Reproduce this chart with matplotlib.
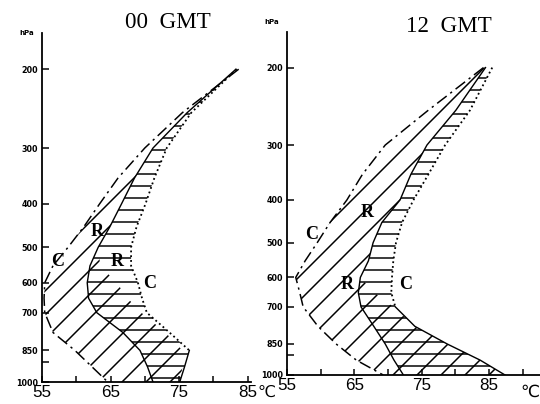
import matplotlib
matplotlib.use("Agg")
import matplotlib.pyplot as plt
from matplotlib.ticker import NullLocator

levels = [200, 250, 300, 350, 400, 450, 500, 550, 600, 650, 700, 775, 850, 925, 1000]

# 00 GMT panel (values in degC)
c_left_00 = [83.7, 75.5, 70.0, 66.1, 63.4, 61.1, 58.8, 56.6, 55.4, 55.3, 55.4, 56.6, 59.8, 62.3, 64.6]
r_left_00 = [83.3, 76.2, 71.2, 68.5, 66.6, 64.9, 63.2, 62.0, 61.6, 61.8, 63.0, 66.8, 69.3, 70.4, 71.2]
c_right_00 = [83.4, 76.8, 73.2, 71.4, 70.1, 68.8, 68.0, 68.0, 69.0, 69.6, 70.3, 73.6, 76.5, 75.8, 75.1]
slash_right_00 = [83.3, 76.2, 71.2, 68.5, 66.6, 64.9, 63.2, 63.5, 65.9, 67.5, 69.5, 73.0, 75.5, 75.5, 75.1]

# 12 GMT panel
c_left_12 = [84.2, 76.0, 69.6, 66.2, 63.9, 61.4, 59.5, 57.7, 56.3, 56.9, 57.4, 59.6, 62.3, 65.3, 69.3]
r_left_12 = [84.5, 80.1, 75.8, 73.4, 71.8, 69.1, 67.8, 67.1, 65.9, 65.6, 66.0, 67.9, 69.6, 70.9, 72.3]
c_right_12 = [85.5, 82.2, 78.5, 76.0, 73.8, 72.1, 71.2, 70.8, 70.6, 70.5, 71.1, 74.0, 78.8, 83.7, 87.4]
slash_right_12 = [84.5, 80.1, 75.8, 73.4, 71.8, 69.1, 67.8, 67.1, 65.9, 68.0, 70.8, 74.0, 78.8, 83.7, 87.4]

p_ticks = [200, 300, 400, 500, 600, 700, 850, 900, 1000]
p_labels = ['200', '300', '400', '500', '600', '700', '850', '', '1000']

# region labels: (text, x degC, p hPa)
labels_00 = [('C', 57.3, 539), ('R', 63.0, 462), ('R', 65.9, 539), ('C', 70.7, 601)]
labels_12 = [('R', 66.9, 426), ('C', 58.7, 480), ('R', 63.9, 623), ('C', 72.6, 623)]

plt.rcParams['hatch.linewidth'] = 1.5
plt.rcParams['hatch.color'] = 'black'

fig = plt.figure(figsize=(540 / 72, 404 / 72), dpi=72)
ax1 = fig.add_axes([42 / 540, 1 - 382 / 404, 209 / 540, 349 / 404])
ax2 = fig.add_axes([287 / 540, 1 - 375 / 404, 253 / 540, 343 / 404])


def draw_panel(ax, c_left, r_left, c_right, slash_right, solid_from, labels, xmax, xticks):
    ax.fill_betweenx(levels, c_left, slash_right, facecolor='none', edgecolor='black',
                     hatch='/', linewidth=0)
    ax.fill_betweenx(levels, r_left, c_right, facecolor='none', edgecolor='black',
                     hatch='-', linewidth=0)
    ax.plot(c_left, levels, color='black', lw=1.5, dashes=(8, 3, 1.5, 3))
    ax.plot(r_left, levels, color='black', lw=1.4)
    k = levels.index(solid_from)
    ax.plot(c_right[:k + 1], levels[:k + 1], color='black', lw=1.8, linestyle=':')
    ax.plot(c_right[k:], levels[k:], color='black', lw=1.4)
    for txt, x, p in labels:
        ax.text(x, p, txt, ha='center', va='center', family='Liberation Serif',
                weight='bold', fontsize=18)

    ax.set_yscale('log')
    ax.set_ylim(1000, 166)
    ax.set_xlim(55, xmax)
    ax.yaxis.set_minor_locator(NullLocator())
    ax.set_yticks(p_ticks)
    ax.set_yticklabels(p_labels, fontsize=8, weight='bold')
    ax.set_xticks(xticks)
    ax.set_xticklabels([str(t) if t % 10 == 5 else '' for t in xticks],
                       family='Liberation Sans', fontsize=17)
    ax.tick_params(axis='y', direction='in', length=7, width=1.5, pad=4)
    ax.tick_params(axis='x', direction='in', length=6, width=1.5, pad=3)
    for s in ['top', 'right']:
        ax.spines[s].set_visible(False)
    for s in ['left', 'bottom']:
        ax.spines[s].set_linewidth(1.8)
    ax.patch.set_alpha(0)


draw_panel(ax1, c_left_00, r_left_00, c_right_00, slash_right_00, 850, labels_00,
           85.5, [55, 60, 65, 70, 75, 80, 85])
draw_panel(ax2, c_left_12, r_left_12, c_right_12, slash_right_12, 700, labels_12,
           92.6, [55, 60, 65, 70, 75, 80, 85, 90])

fig.text(168 / 540, 1 - 23 / 404, '00  GMT', ha='center', va='center',
         family='Liberation Serif', fontsize=23)
fig.text(449 / 540, 1 - 26 / 404, '12  GMT', ha='center', va='center',
         family='Liberation Serif', fontsize=23)
fig.text(27 / 540, 1 - 33 / 404, 'hPa', ha='center', va='center', fontsize=7, weight='bold')
fig.text(272 / 540, 1 - 22 / 404, 'hPa', ha='center', va='center', fontsize=7, weight='bold')
fig.text(266 / 540, 1 - 392 / 404, '\u2103', ha='center', va='center', fontsize=16)
fig.text(530 / 540, 1 - 392 / 404, '\u2103', ha='center', va='center', fontsize=17)

fig.savefig('out.png', dpi=72, facecolor='white')
